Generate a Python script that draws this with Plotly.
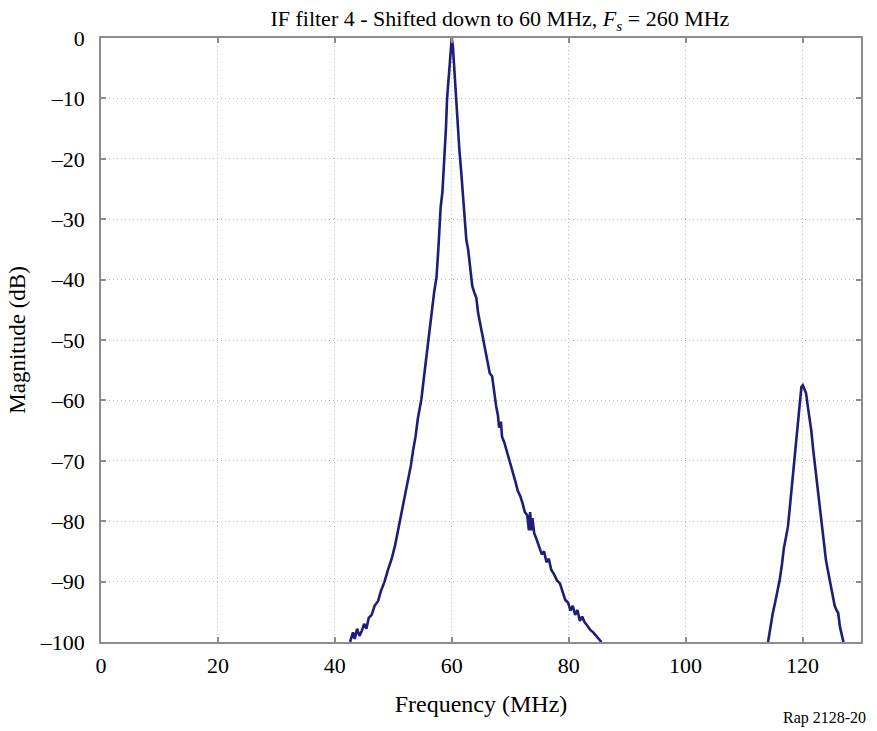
import plotly.graph_objects as go

# Main lobe around 60 MHz (MHz, dB)
main_freq = [42.6, 43.1, 43.4, 43.8, 44.2, 44.6, 45.0, 45.4, 45.8, 46.3, 46.8, 47.4, 47.9, 48.5,
             49.1, 49.7, 50.3, 50.8, 51.1, 51.6, 52.1, 52.5, 53.0, 53.4, 53.8, 54.2, 54.6, 54.8,
             55.2, 55.6, 56.0, 56.4, 56.6, 57.0, 57.4, 57.7, 57.9, 58.1, 58.4, 58.6, 58.8, 59.0,
             59.2, 59.5, 59.8, 60.0, 60.2, 60.4, 60.7, 61.0, 61.3, 61.6, 61.9, 62.2, 62.5, 62.8,
             63.1, 63.5, 63.8, 64.2, 64.5, 64.9, 65.3, 65.7, 66.2, 66.5, 66.9, 67.3, 67.6, 67.9,
             68.1, 68.4, 68.6, 69.0, 69.3, 69.7, 70.1, 70.5, 70.9, 71.3, 71.7, 72.1, 72.5, 72.9,
             73.2, 73.4, 73.6, 73.8, 74.1, 74.5, 75.0, 75.4, 75.8, 76.2, 76.6, 77.0, 77.5, 78.0,
             78.5, 79.0, 79.4, 79.9, 80.3, 80.7, 81.1, 81.5, 81.9, 82.3, 82.7, 83.2, 83.7, 84.2,
             84.7, 85.2, 85.6]
main_db = [-100, -98.4, -99.5, -97.8, -99.0, -98.2, -97.0, -97.8, -96.0, -95.5, -94.0, -93.2, -91.5, -90.0,
           -88.0, -86.3, -84.0, -81.5, -80.2, -78.0, -75.5, -73.5, -70.8, -68.2, -66.0, -63.0, -61.0, -59.8,
           -56.5, -53.0, -49.5, -46.0, -45.2, -42.0, -39.5, -35.0, -31.0, -28.0, -25.5, -22.0, -19.5, -15.0,
           -10.0, -6.0, -2.0, 0.0, -1.5, -5.0, -10.0, -14.0, -18.5, -22.0, -26.0, -30.0, -33.5, -35.0,
           -37.5, -41.0, -42.0, -43.0, -45.5, -47.5, -49.0, -51.5, -53.5, -55.5, -56.0, -59.0, -61.0, -62.5,
           -64.5, -63.5, -66.0, -67.0, -68.0, -69.5, -70.8, -71.8, -73.5, -75.0, -75.8, -77.0, -78.5, -79.0,
           -81.5, -78.5, -81.5, -79.5, -82.0, -83.0, -84.3, -85.5, -85.0, -86.8, -86.2, -88.0, -88.8, -89.8,
           -90.3, -91.8, -93.0, -93.5, -94.8, -94.0, -95.5, -94.7, -96.5, -95.8, -96.7, -97.3, -98.0, -98.4,
           -99.0, -99.5, -100]

# Image lobe around 120 MHz
image_freq = [114.1, 114.5, 114.9, 115.3, 115.7, 116.1, 116.5, 116.8, 117.2, 117.5, 117.8, 118.0, 118.3,
              118.6, 118.8, 119.0, 119.2, 119.4, 119.6, 119.8, 120.05, 120.3, 120.6, 120.9, 121.2, 121.5,
              121.8, 122.1, 122.3, 122.6, 122.9, 123.2, 123.5, 123.8, 124.0, 124.3, 124.6, 124.9, 125.2,
              125.5, 125.8, 126.1, 126.4, 126.7, 127.0]
image_db = [-100, -97.5, -95.3, -93.5, -91.5, -89.7, -87.0, -84.5, -82.5, -80.9, -78.0, -76.0, -72.6,
            -70.0, -67.0, -65.5, -63.5, -61.0, -58.8, -57.8, -57.5, -58.0, -58.8, -61.0, -63.0, -65.0,
            -68.0, -70.5, -72.6, -75.0, -78.0, -79.8, -82.0, -85.0, -86.4, -88.0, -89.5, -90.8, -92.5,
            -94.0, -94.7, -95.2, -97.5, -98.8, -100]

x_tick_vals = [0, 20, 40, 60, 80, 100, 120]
x_tick_labels = ["0", "20", "40", "60", "80", "100", "120"]
y_tick_vals = [0, -10, -20, -30, -40, -50, -60, -70, -80, -90, -100]
y_tick_labels = ["0", "–10", "–20", "–30", "–40", "–50", "–60", "–70", "–80", "–90", "–100"]

FONT = "Liberation Serif, Times New Roman, serif"
LINE = "#1e1e78"

fig = go.Figure()
fig.add_trace(go.Scatter(x=main_freq + [None] + image_freq, y=main_db + [None] + image_db,
                         mode="lines", line=dict(color=LINE, width=2.6), connectgaps=False,
                         showlegend=False, cliponaxis=True))

axis_common = dict(showline=True, linecolor="#8c8c8c", linewidth=1.5, mirror="ticks",
                   ticks="inside", ticklen=5, tickwidth=1.5, tickcolor="#8c8c8c",
                   showgrid=True, gridcolor="#b8b8b8", griddash="1px,3px", gridwidth=1,
                   zeroline=False, tickfont=dict(family=FONT, size=22, color="black"))

fig.update_xaxes(range=[0, 130], tickvals=x_tick_vals, ticktext=x_tick_labels,
                 title=dict(text="Frequency (MHz)", font=dict(family=FONT, size=24, color="black"),
                            standoff=18), ticklabelstandoff=3, **axis_common)
fig.update_yaxes(range=[-100, 0], tickvals=y_tick_vals, ticktext=y_tick_labels,
                 title=dict(text="Magnitude (dB)", font=dict(family=FONT, size=23, color="black"),
                            standoff=8), ticklabelstandoff=10, **axis_common)

fig.update_layout(
    width=877, height=731,
    margin=dict(l=101, r=16, t=38, b=89),
    paper_bgcolor="white", plot_bgcolor="white",
    title=dict(text="IF filter 4 - Shifted down to 60 MHz, <i>F<sub>s</sub></i> = 260 MHz",
               x=0.570, xanchor="center", y=0.975, yanchor="middle",
               font=dict(family=FONT, size=22, color="black")),
    annotations=[dict(text="Rap 2128-20", xref="paper", yref="paper", x=1.009, y=-0.126,
                      xanchor="right", yanchor="middle", showarrow=False,
                      font=dict(family=FONT, size=16, color="black"))],
)

fig.write_html("out.html")
